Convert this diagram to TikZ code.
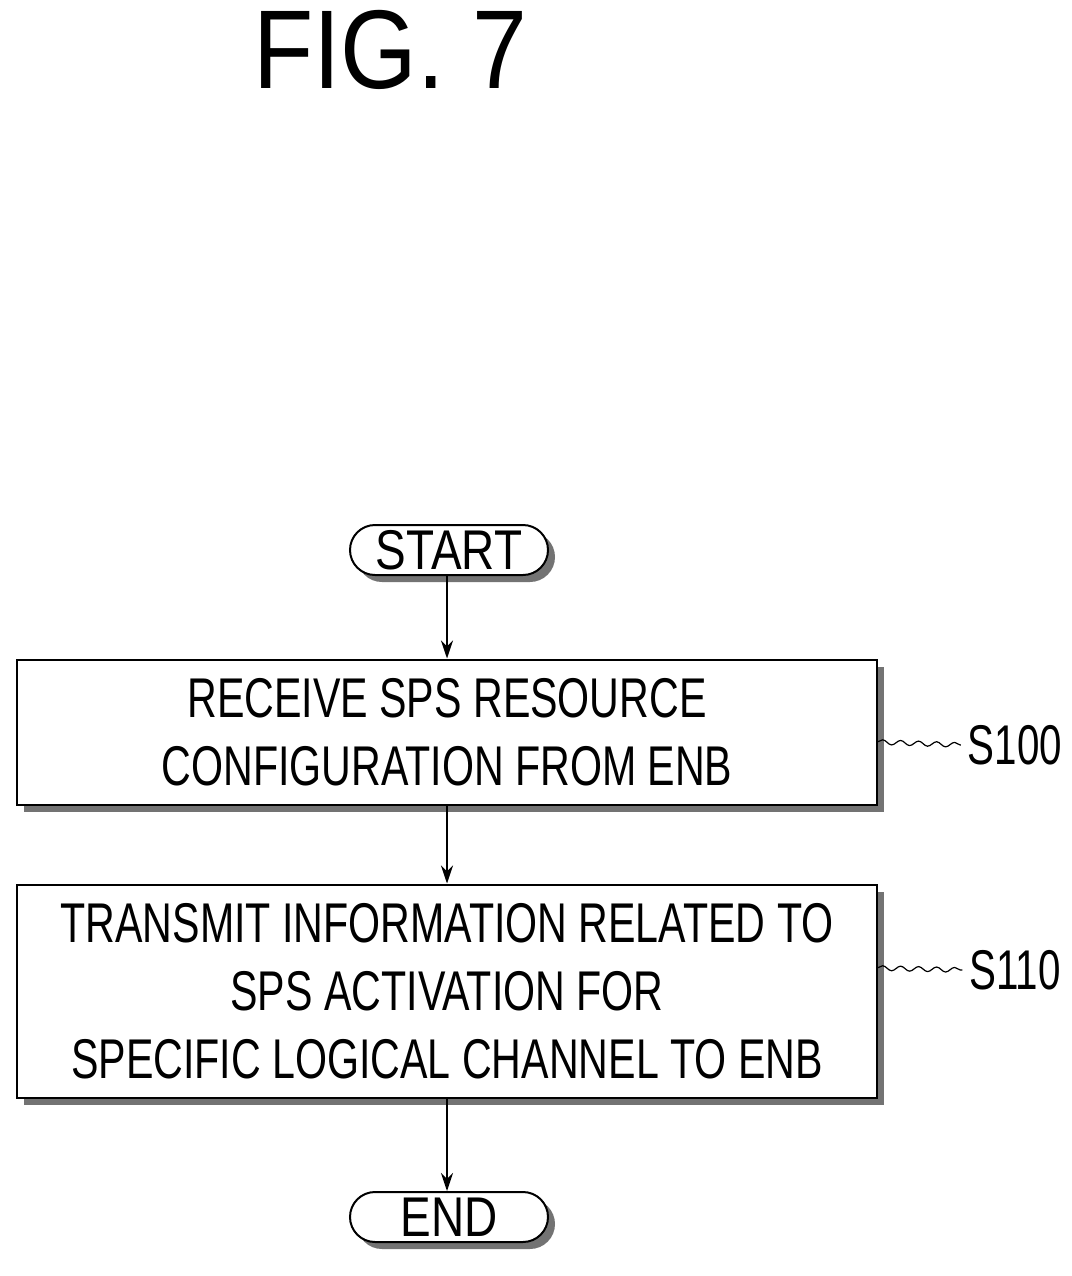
\documentclass[tikz,border=0pt]{standalone}
\usepackage{fontspec}
\setmainfont{Liberation Sans}
\usetikzlibrary{shadows,decorations.pathmorphing,arrows.meta}
\begin{document}
\begin{tikzpicture}[x=0.5pt,y=-0.5pt,
  shad/.style={drop shadow={shadow xshift=3.5pt,shadow yshift=-3.5pt,fill=black!55,opacity=1}},
  stepbox/.style={draw,line width=1pt,fill=white,shad,minimum width=430pt,align=center,font=\fontsize{28}{33.5}\selectfont},
  pill/.style={draw,line width=1pt,fill=white,shad,rounded corners=12.5pt,minimum width=99pt,minimum height=25pt,inner sep=0pt,font=\fontsize{28}{33}\selectfont},
  arr/.style={line width=1pt,-{Stealth[length=9pt,width=6pt]}},
  sq/.style={line width=0.6pt,decorate,decoration={snake,amplitude=1.2pt,segment length=9pt}},
  lab/.style={font=\fontsize{28}{33}\selectfont}]
\useasboundingbox (0,0) rectangle (1072,1276);
\node at (390,50) {\fontsize{56}{60}\selectfont\scalebox{0.88}[1]{FIG. 7}};
\node[pill] (start) at (449,550) {\scalebox{0.82}[1]{START}};
\node[stepbox,minimum height=72.5pt] (b1) at (447,732) {\scalebox{0.735}[1]{RECEIVE SPS RESOURCE}\\[0.4pt]\scalebox{0.735}[1]{CONFIGURATION FROM ENB}};
\node[stepbox,minimum height=106.5pt] (b2) at (447,991) {\scalebox{0.735}[1]{TRANSMIT INFORMATION RELATED TO}\\[0.4pt]\scalebox{0.735}[1]{SPS ACTIVATION FOR}\\[0.4pt]\scalebox{0.735}[1]{SPECIFIC LOGICAL CHANNEL TO ENB}};
\node[pill] (end) at (449,1217) {\scalebox{0.82}[1]{END}};
\draw[arr] (start.south -| b1.north) -- (b1.north);
\draw[arr] (b1) -- (b2);
\draw[arr] (b2.south) -- (end.north -| b2.south);
\node[lab] (s100) at (1015,745) {\scalebox{0.72}[1]{S100}};
\node[lab] (s110) at (1015,970) {\scalebox{0.72}[1]{S110}};
\coordinate (c1) at (877,742);
\coordinate (c2) at (877,968);
\draw[sq] (c1) -- (s100.west);
\draw[sq] (c2) -- (s110.west);
\end{tikzpicture}
\end{document}
